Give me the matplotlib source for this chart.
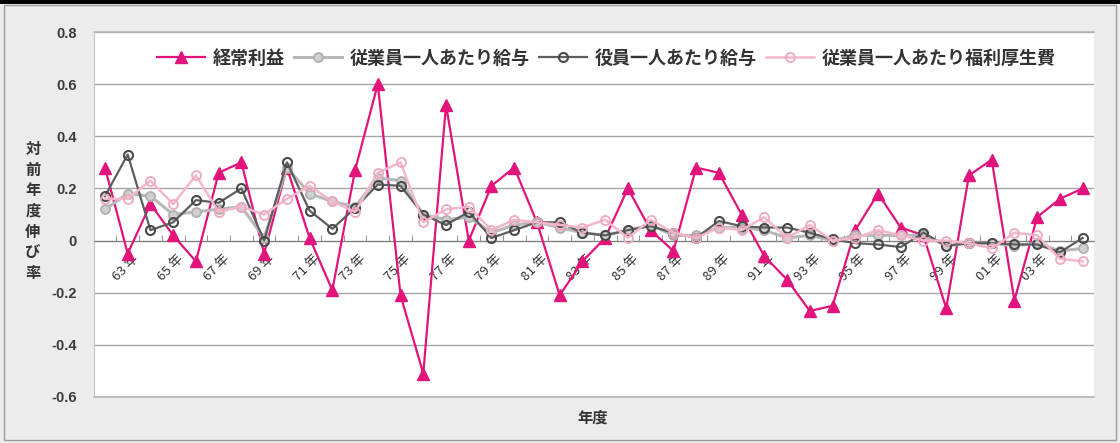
import matplotlib.pyplot as plt
from matplotlib.patches import Rectangle
import matplotlib.transforms as mtransforms

plt.rcParams['font.family'] = ['Noto Sans CJK JP', 'DejaVu Sans']

# fiscal years 62 .. 05
years = ['%02d' % (y % 100) for y in range(1962, 2006)]

keijo_rieki = [0.28, -0.05, 0.14, 0.02, -0.08, 0.26, 0.30, -0.05, 0.28, 0.01,
               -0.19, 0.27, 0.60, -0.21, -0.51, 0.52, 0.00, 0.21, 0.28, 0.07,
               -0.21, -0.08, 0.01, 0.20, 0.04, -0.04, 0.28, 0.26, 0.10, -0.06,
               -0.15, -0.27, -0.25, 0.04, 0.18, 0.05, 0.02, -0.26, 0.25, 0.31,
               -0.23, 0.09, 0.16, 0.20]
jugyoin_kyuyo = [0.12, 0.18, 0.17, 0.10, 0.11, 0.12, 0.13, 0.01, 0.28, 0.18,
                 0.15, 0.13, 0.24, 0.23, 0.10, 0.08, 0.09, 0.03, 0.06, 0.07,
                 0.05, 0.03, 0.02, 0.04, 0.06, 0.02, 0.02, 0.05, 0.05, 0.04,
                 0.01, 0.02, 0.00, 0.02, 0.02, 0.02, 0.02, -0.02, -0.01, -0.01,
                 -0.02, -0.01, -0.04, -0.03]
yakuin_kyuyo = [0.17, 0.33, 0.04, 0.07, 0.155, 0.145, 0.20, 0.00, 0.30, 0.115,
                0.045, 0.125, 0.215, 0.21, 0.10, 0.06, 0.11, 0.01, 0.04, 0.07,
                0.07, 0.03, 0.02, 0.04, 0.055, 0.03, 0.01, 0.075, 0.055, 0.05,
                0.05, 0.03, 0.005, -0.01, -0.015, -0.025, 0.03, -0.02, -0.01, -0.01,
                -0.015, -0.015, -0.045, 0.01]
fukuri_kosei = [0.16, 0.16, 0.23, 0.14, 0.25, 0.11, 0.13, 0.10, 0.16, 0.21,
                0.15, 0.11, 0.26, 0.30, 0.07, 0.12, 0.13, 0.04, 0.08, 0.07,
                0.06, 0.05, 0.08, 0.01, 0.08, 0.03, 0.01, 0.05, 0.04, 0.09,
                0.01, 0.06, 0.00, 0.01, 0.04, 0.02, 0.00, 0.00, -0.01, -0.03,
                0.03, 0.02, -0.07, -0.08]

W, H = 1120, 443
fig = plt.figure(figsize=(W / 100, H / 100), dpi=100, facecolor='#ececec')

# screenshot top bar and chart frame
fig.patches.append(Rectangle((0, 1 - 4 / H), 1, 4 / H, transform=fig.transFigure,
                             facecolor='black', edgecolor='none'))
fig.patches.append(Rectangle((4 / W, 3 / H), 1112 / W, 435 / H, transform=fig.transFigure,
                             facecolor='none', edgecolor='#9c9c9c', linewidth=1))

left, right, top, bottom = 93.6, 1094, 32, 397
ax = fig.add_axes([left / W, 1 - bottom / H, (right - left) / W, (bottom - top) / H])
ax.set_facecolor('white')

# category axis crosses at zero (set before ticks, it resets them)
ax.spines['bottom'].set_position(('data', 0))
ax.spines['bottom'].set_color('#808080')
ax.spines['left'].set_color('#c4c4c4')
ax.spines['top'].set_visible(False)
ax.spines['right'].set_visible(False)

x = list(range(len(years)))
magenta = '#e2147c'
ax.plot(x, keijo_rieki, color=magenta, lw=1.6, marker='^', ms=8.5,
        mfc=magenta, mec=magenta, label='経常利益', zorder=3)
ax.plot(x, jugyoin_kyuyo, color='#b8b8b8', lw=2.2, marker='o', ms=6.5,
        mfc='#d0d0d0', mec='#b0b0b0', mew=1.3, label='従業員一人あたり給与', zorder=4)
ax.plot(x, yakuin_kyuyo, color='#5e5e5e', lw=1.6, marker='o', ms=6.5,
        mfc='none', mec='#4a4a4a', mew=1.5, label='役員一人あたり給与', zorder=5)
ax.plot(x, fukuri_kosei, color='#f4b8cb', lw=1.8, marker='o', ms=6.5,
        mfc='none', mec='#f0a8bf', mew=1.3, label='従業員一人あたり福利厚生費', zorder=6)

ax.set_xlim(-0.5, len(years) - 0.5)
ax.set_ylim(-0.6, 0.8)
ax.set_yticks([-0.6, -0.4, -0.2, 0, 0.2, 0.4, 0.6, 0.8])
ax.set_yticklabels(['-0.6', '-0.4', '-0.2', '0', '0.2', '0.4', '0.6', '0.8'],
                   family=['Liberation Sans', 'DejaVu Sans'], fontweight='bold')
ax.tick_params(axis='y', length=0, pad=12, labelsize=10.5, labelcolor='#3a3a3a')
ax.yaxis.grid(True, color='#a6a6a6', linewidth=1)
ax.set_axisbelow(True)
# plot-area border lines at top and bottom
for yb in (-0.6, 0.8):
    ax.axhline(yb, color='#b4b4b4', lw=1.2, clip_on=False, zorder=1)

label_idx = list(range(1, len(years), 2))[:21]
ax.set_xticks(label_idx)
ax.set_xticks([i - 0.5 for i in range(1, len(years))], minor=True)
ax.tick_params(axis='x', which='major', length=0, pad=0)
ax.tick_params(axis='x', which='minor', length=4, direction='in', color='#808080')
ax.set_xticklabels([years[i] + ' 年' for i in label_idx], rotation=45,
                   ha='right', va='top', rotation_mode='anchor',
                   fontsize=9.5, color='#333333')
offset = mtransforms.ScaledTranslation(4 / 100, -12 / 100, fig.dpi_scale_trans)
for lab in ax.get_xticklabels():
    lab.set_transform(lab.get_transform() + offset)

# axis titles
fig.text(33 / W, 1 - 211 / H, '対\n前\n年\n度\n伸\nび\n率', ha='center', va='center',
         fontsize=11, color='#333333', linespacing=1.35, fontweight='bold')
fig.text(593 / W, 1 - 418 / H, '年度', ha='center', va='center',
         fontsize=11, color='#333333', fontweight='bold')

ax.legend(loc='center', bbox_to_anchor=(606 / W, 1 - 58 / H), bbox_transform=fig.transFigure,
          ncol=4, frameon=False, prop={'size': 13, 'weight': 'bold'},
          handlelength=2.7, handletextpad=0.4, columnspacing=0.5, labelcolor='#333333')

fig.savefig('out.png', dpi=100, facecolor=fig.get_facecolor())
